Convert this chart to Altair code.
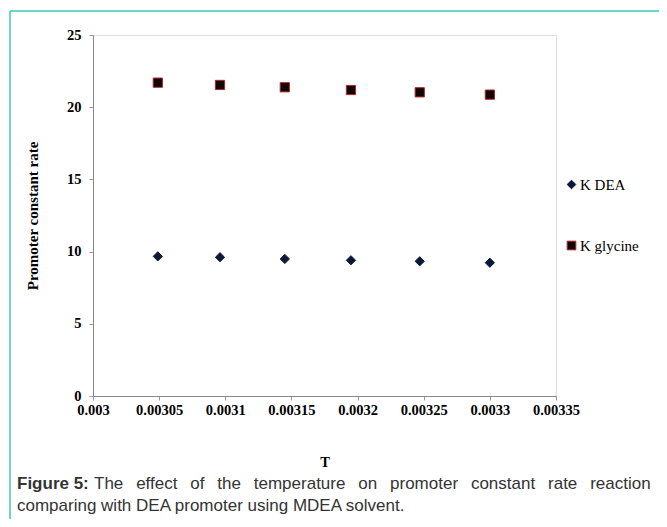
import altair as alt
import pandas as pd

# Data
inv_T = [0.003049, 0.003096, 0.003145, 0.003195, 0.003247, 0.003300]
k_dea = [9.67, 9.61, 9.49, 9.40, 9.33, 9.23]
k_glycine = [21.70, 21.54, 21.38, 21.19, 21.03, 20.87]
series_names = ["K DEA", "K glycine"]
x_ticks = [0.003, 0.00305, 0.0031, 0.00315, 0.0032, 0.00325, 0.0033, 0.00335]
y_ticks = [0, 5, 10, 15, 20, 25]
caption_bold = "Figure 5:"
caption_line1 = "The effect of the temperature on promoter constant rate reaction"
caption_line2 = "comparing with DEA promoter using MDEA solvent."

rows = []
for x, v in zip(inv_T, k_dea):
    rows.append({"T": x, "rate": v, "series": series_names[0]})
for x, v in zip(inv_T, k_glycine):
    rows.append({"T": x, "rate": v, "series": series_names[1]})
df = pd.DataFrame(rows)

SERIF = "Liberation Serif"
SANS = "Liberation Sans"
W, H = 463, 361
FS = 14.5

legend = alt.Legend(title=None, orient="none", legendX=471, legendY=142,
                    labelFont=SERIF, labelFontSize=15, labelColor="black",
                    symbolSize=75, symbolStrokeWidth=1, rowPadding=45, padding=0,
                    labelOffset=1)

points = alt.Chart(df).mark_point(filled=True, opacity=1, strokeWidth=1, size=85).encode(
    x=alt.X("T:Q",
            scale=alt.Scale(domain=[0.003, 0.00335], nice=False, zero=False),
            axis=alt.Axis(values=x_ticks, format="~g", title="T",
                          labelFont=SERIF, labelFontWeight="bold", labelFontSize=FS,
                          labelColor="black", labelPadding=3,
                          titleFont=SERIF, titleFontWeight="bold", titleFontSize=FS,
                          titleColor="black", titleY=66, titleBaseline="middle",
                          domainColor="#888888", tickColor="#999999", tickSize=4,
                          grid=False, labelFlush=False)),
    y=alt.Y("rate:Q",
            scale=alt.Scale(domain=[0, 25], nice=False),
            axis=alt.Axis(values=y_ticks, title="Promoter constant rate",
                          labelFont=SERIF, labelFontWeight="bold", labelFontSize=FS,
                          labelColor="black", labelPadding=8,
                          titleFont=SERIF, titleFontWeight="bold", titleFontSize=15,
                          titleColor="black", titleAngle=-90, titleX=-61, titleY=H / 2,
                          titleAlign="center", titleBaseline="middle",
                          domainColor="#888888", tickColor="#999999", tickSize=4,
                          grid=False)),
    shape=alt.Shape("series:N", scale=alt.Scale(domain=series_names, range=["diamond", "square"]),
                    legend=legend),
    fill=alt.Fill("series:N", scale=alt.Scale(domain=series_names, range=["#0c1838", "#120404"]),
                  legend=legend),
    stroke=alt.Stroke("series:N", scale=alt.Scale(domain=series_names, range=["#0c1838", "#a82828"]),
                      legend=legend),
)

dummy = pd.DataFrame({"a": [0]})
teal = "#3ec9b3"
frame_left = alt.Chart(dummy).mark_rule(color=teal, strokeWidth=1.5).encode(
    x=alt.value(-83), y=alt.value(-24), y2=alt.value(500))
frame_top = alt.Chart(dummy).mark_rule(color=teal, strokeWidth=1.5).encode(
    x=alt.value(-83), x2=alt.value(580), y=alt.value(-24))

GAP = "\u00a0\u00a0\u2009"
cap = pd.DataFrame({
    "b": [caption_bold],
    "l1": [caption_line1.replace(" ", GAP)],
    "l2": [caption_line2],
})
CFS = 17
X0 = 17 - 93
cap_bold = alt.Chart(cap).mark_text(align="left", baseline="middle", font=SANS, fontSize=CFS,
                                    fontWeight="bold", color="#333333").encode(
    text="b:N", x=alt.value(X0), y=alt.value(449))
cap_l1 = alt.Chart(cap).mark_text(align="left", baseline="middle", font=SANS, fontSize=CFS,
                                  color="#333333").encode(
    text="l1:N", x=alt.value(X0 + 77), y=alt.value(449))
cap_l2 = alt.Chart(cap).mark_text(align="left", baseline="middle", font=SANS, fontSize=CFS,
                                  color="#333333").encode(
    text="l2:N", x=alt.value(X0), y=alt.value(471))

chart = alt.layer(frame_left, frame_top, points, cap_bold, cap_l1, cap_l2).properties(
    width=W, height=H,
    autosize=alt.AutoSizeParams(type="none"),
    padding={"left": 85, "top": 27, "right": 103, "bottom": 123},
).configure_view(stroke="#888888", strokeWidth=1.5).configure(background="white")

chart.save("out.html", embed_options={"renderer": "svg", "actions": False})
